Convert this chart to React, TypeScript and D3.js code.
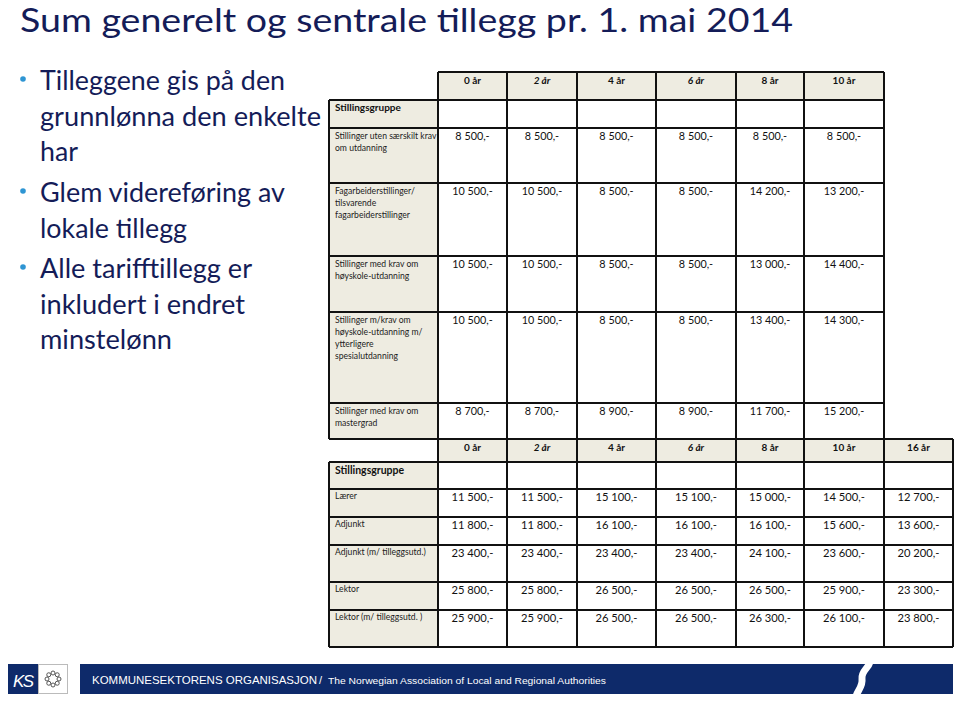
import React from "react";
import * as d3 from "d3";

const title = "Sum generelt og sentrale tillegg pr. 1. mai 2014";
const bullets = [
  ["Tilleggene gis på den", "grunnlønna den enkelte", "har"],
  ["Glem videreføring av", "lokale tillegg"],
  ["Alle tarifftillegg er", "inkludert i endret", "minstelønn"],
];

const groupHeader = "Stillingsgruppe";
const topYears = ["0 år", "2 år", "4 år", "6 år", "8 år", "10 år"];
const topGroups = [
  ["Stillinger uten særskilt krav", "om utdanning"],
  ["Fagarbeiderstillinger/", "tilsvarende", "fagarbeiderstillinger"],
  ["Stillinger med krav om", "høyskole-utdanning"],
  ["Stillinger m/krav om", "høyskole-utdanning m/", "ytterligere", "spesialutdanning"],
  ["Stillinger med krav om", "mastergrad"],
];
const topValues = [
  [8500, 8500, 8500, 8500, 8500, 8500],
  [10500, 10500, 8500, 8500, 14200, 13200],
  [10500, 10500, 8500, 8500, 13000, 14400],
  [10500, 10500, 8500, 8500, 13400, 14300],
  [8700, 8700, 8900, 8900, 11700, 15200],
];

const bottomYears = ["0 år", "2 år", "4 år", "6 år", "8 år", "10 år", "16 år"];
const bottomGroups = ["Lærer", "Adjunkt", "Adjunkt (m/ tilleggsutd.)", "Lektor", "Lektor (m/ tilleggsutd. )"];
const bottomValues = [
  [11500, 11500, 15100, 15100, 15000, 14500, 12700],
  [11800, 11800, 16100, 16100, 16100, 15600, 13600],
  [23400, 23400, 23400, 23400, 24100, 23600, 20200],
  [25800, 25800, 26500, 26500, 26500, 25900, 23300],
  [25900, 25900, 26500, 26500, 26300, 26100, 23800],
];
const italicYears = [1, 3];

const footerMain = "KOMMUNESEKTORENS ORGANISASJON";
const footerSub = "The Norwegian Association of Local and Regional Authorities";

// layout
const W = 960, H = 705;
const colEdges = [438, 507, 577, 656, 736, 804, 884, 953];
const labelX0 = 329;
const topRowEdges = [72, 100, 128, 183, 256, 312, 403, 439];
const botRowEdges = [439, 462, 489, 517, 545, 582, 610, 647];

const locale = d3.formatLocale({ decimal: ",", thousands: "\u00a0", grouping: [3], currency: ["", " kr"] });
const fmt = (v: number) => locale.format(",")(v).replace(/\u00a0/g, " ") + ",-";

const FONT = "Lato, 'Open Sans', sans-serif";
const NAVY = "#141C58";
const BEIGE = "#EEECE1";
const LINE = "#111";

export default function App() {
  const colX = d3.scaleOrdinal<number, number>().domain(d3.range(colEdges.length)).range(colEdges);
  const topY = d3.scaleOrdinal<number, number>().domain(d3.range(topRowEdges.length)).range(topRowEdges);
  const botY = d3.scaleOrdinal<number, number>().domain(d3.range(botRowEdges.length)).range(botRowEdges);

  const bulletLines: { text: string; first: boolean; y: number }[] = [];
  const bulletBase = [90, 202, 278];
  const lh = 35.5;
  bullets.forEach((b, i) => b.forEach((t, j) => bulletLines.push({ text: t, first: j === 0, y: bulletBase[i] + j * lh })));
  const bulletWidths: Record<string, number> = {
    "Tilleggene gis på den": 245,
    "grunnlønna den enkelte": 281,
    "har": 38,
    "Glem videreføring av": 245,
    "lokale tillegg": 147,
    "Alle tarifftillegg er": 212,
    "inkludert i endret": 205,
    "minstelønn": 132,
  };

  const nTop = topYears.length;
  const nBot = bottomYears.length;

  return (
    <svg width={W} height={H} style={{ position: "absolute", left: 0, top: 0, background: "#fff" }}>
      <rect x={0} y={0} width={W} height={H} fill="#fff" />
      <text x={20} y={32} fontFamily={FONT} fontWeight={400} fontSize={33} fill={NAVY} textLength={773} lengthAdjust="spacingAndGlyphs">
        {title}
      </text>

      {bulletLines.map((l, i) => (
        <g key={i}>
          {l.first && <circle cx={23} cy={l.y - 11} r={2.8} fill="#2E95D3" />}
          <text x={40} y={l.y} fontFamily={FONT} fontSize={27} fill={NAVY} textLength={bulletWidths[l.text]} lengthAdjust="spacingAndGlyphs">
            {l.text}
          </text>
        </g>
      ))}

      {/* TOP TABLE */}
      <g>
        {topYears.map((y, i) => (
          <rect key={"th" + i} x={colX(i)} y={topY(0)} width={colX(i + 1) - colX(i)} height={topY(1) - topY(0)} fill={BEIGE} />
        ))}
        <rect x={labelX0} y={topY(1)} width={colX(0) - labelX0} height={topY(7) - topY(1)} fill={BEIGE} />
        {topYears.map((y, i) => (
          <text key={"tht" + i} x={(colX(i) + colX(i + 1)) / 2} y={topY(0) + 12} textAnchor="middle" fontFamily={FONT} fontWeight={700}
            fontStyle={italicYears.includes(i) ? "italic" : "normal"} fontSize={10} fill="#111">{y}</text>
        ))}
        <text x={335} y={topY(1) + 11} fontFamily={FONT} fontWeight={700} fontSize={10} fill="#111">{groupHeader}</text>
        {topGroups.map((g, r) => (
          <g key={"tg" + r}>
            {g.map((t, k) => (
              <text key={k} x={335} y={topY(r + 2) + 11 + k * 12} fontFamily={FONT} fontSize={8.6} fill="#222">{t}</text>
            ))}
            {topValues[r].map((v, c) => (
              <text key={"v" + c} x={(colX(c) + colX(c + 1)) / 2} y={topY(r + 2) + 12} textAnchor="middle" fontFamily={FONT} fontSize={10.8} fill="#111">{fmt(v)}</text>
            ))}
          </g>
        ))}
        <line x1={colX(0)} x2={colX(nTop)} y1={topY(0)} y2={topY(0)} stroke={LINE} strokeWidth={2} />
        {d3.range(1, 7).map((r) => (
          <line key={"th" + r} x1={labelX0} x2={colX(nTop)} y1={topY(r)} y2={topY(r)} stroke={LINE} strokeWidth={2} />
        ))}
        <line x1={labelX0} x2={labelX0} y1={topY(1)} y2={topY(7)} stroke={LINE} strokeWidth={2} />
        {d3.range(0, nTop + 1).map((c) => (
          <line key={"tv" + c} x1={colX(c)} x2={colX(c)} y1={topY(0)} y2={topY(7)} stroke={LINE} strokeWidth={2} />
        ))}
      </g>

      {/* BOTTOM TABLE */}
      <g>
        {bottomYears.map((y, i) => (
          <rect key={"bh" + i} x={colX(i)} y={botY(0)} width={colX(i + 1) - colX(i)} height={botY(1) - botY(0)} fill={BEIGE} />
        ))}
        <rect x={labelX0} y={botY(1)} width={colX(0) - labelX0} height={botY(7) - botY(1)} fill={BEIGE} />
        {bottomYears.map((y, i) => (
          <text key={"bht" + i} x={(colX(i) + colX(i + 1)) / 2} y={botY(0) + 12} textAnchor="middle" fontFamily={FONT} fontWeight={700}
            fontStyle={italicYears.includes(i) ? "italic" : "normal"} fontSize={10} fill="#111">{y}</text>
        ))}
        <text x={335} y={botY(1) + 12} fontFamily={FONT} fontWeight={700} fontSize={10.5} fill="#111">{groupHeader}</text>
        {bottomGroups.map((g, r) => (
          <g key={"bg" + r}>
            <text x={335} y={botY(r + 2) + 10} fontFamily={FONT} fontSize={8.6} fill="#222">{g}</text>
            {bottomValues[r].map((v, c) => (
              <text key={"bv" + c} x={(colX(c) + colX(c + 1)) / 2} y={botY(r + 2) + 12} textAnchor="middle" fontFamily={FONT} fontSize={11.2} fill="#111">{fmt(v)}</text>
            ))}
          </g>
        ))}
        <line x1={labelX0} x2={colX(nBot)} y1={botY(0)} y2={botY(0)} stroke={LINE} strokeWidth={2} />
        {d3.range(1, 8).map((r) => (
          <line key={"bhl" + r} x1={labelX0} x2={colX(nBot)} y1={botY(r)} y2={botY(r)} stroke={LINE} strokeWidth={2} />
        ))}
        <line x1={labelX0} x2={labelX0} y1={botY(1)} y2={botY(7)} stroke={LINE} strokeWidth={2} />
        {d3.range(0, nBot + 1).map((c) => (
          <line key={"bv" + c} x1={colX(c)} x2={colX(c)} y1={botY(0)} y2={botY(7)} stroke={LINE} strokeWidth={2} />
        ))}
      </g>

      {/* FOOTER */}
      <g>
        <rect x={8} y={664} width={30} height={30} fill="#0E2A6A" />
        <text x={13} y={687} fontFamily="'Liberation Sans', Arial, sans-serif" fontStyle="italic" fontSize={17} fill="#fff" letterSpacing={-1.5}>KS</text>
        <rect x={38.5} y={664.5} width={29} height={29} fill="#fff" stroke="#bbb" strokeWidth={1} />
        {d3.range(8).map((k) => {
          const a = (k / 8) * Math.PI * 2;
          return <circle key={k} cx={53 + 6 * Math.cos(a)} cy={679 + 6 * Math.sin(a)} r={2} fill="none" stroke="#555" strokeWidth={1} />;
        })}
        <rect x={80} y={664} width={873} height={30} fill="#0E2A6A" />
        <text x={92} y={684} fontFamily="'Liberation Sans', Arial, sans-serif" fontSize={11} fill="#fff" textLength={225} lengthAdjust="spacingAndGlyphs">{footerMain}</text>
        <text x={319} y={684} fontFamily="'Liberation Sans', Arial, sans-serif" fontSize={11} fill="#fff">/</text>
        <text x={328} y={684} fontFamily="'Liberation Sans', Arial, sans-serif" fontSize={9.5} fill="#fff" textLength={278} lengthAdjust="spacingAndGlyphs">{footerSub}</text>
        <path d="M870,662 C868,669 861,671 862,679 C863,686 858,690 856,696" fill="none" stroke="#fff" strokeWidth={7} />
      </g>
    </svg>
  );
}
